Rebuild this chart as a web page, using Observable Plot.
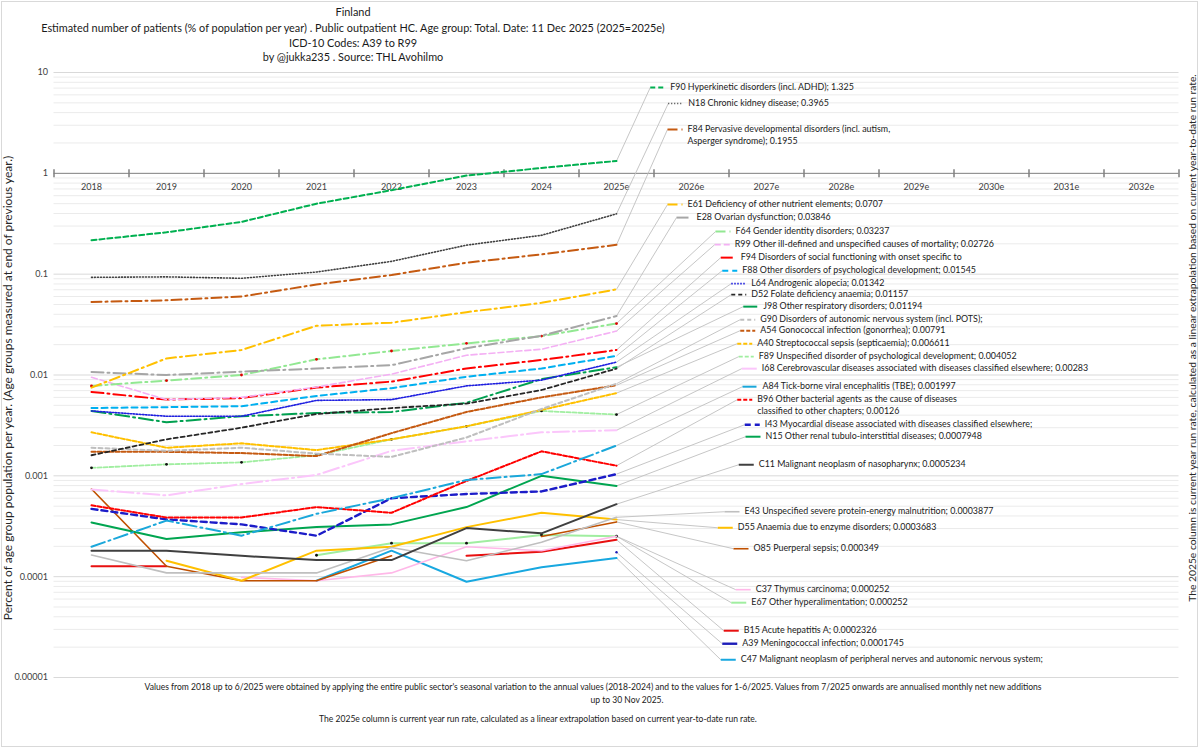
<!DOCTYPE html>
<html>
<head>
<meta charset="utf-8">
<script src="https://cdn.jsdelivr.net/npm/d3@7"></script>
<script src="https://cdn.jsdelivr.net/npm/@observablehq/plot@0.6"></script>
<style>
  html, body { margin: 0; padding: 0; background: #fff; }
  #wrap { position: relative; width: 1200px; height: 749px; overflow: hidden; background: #fff;
          font-family: Lato, "Liberation Sans", sans-serif; color: #1a1a1a; }
  #frame { position: absolute; left: 1px; top: 1px; width: 1195px; height: 744px; border: 1px solid #d9d9d9; }
  .t { position: absolute; white-space: nowrap; transform: translate(-50%, -50%); line-height: 1; }
  .rot { position: absolute; white-space: nowrap; transform: translate(-50%, -50%) rotate(-90deg); line-height: 1; }
  #chart { position: absolute; left: 0; top: 0; }
</style>
</head>
<body>
<div id="wrap">
  <div id="frame"></div>
  <div id="chart"></div>
  <div class="t ttl" style="left:353px; top:12px;">Finland</div>
  <div class="t ttl" id="ttlMain" style="left:353px; top:28px;">Estimated number of patients  (% of population per year) . Public outpatient HC. Age group: Total. Date: 11 Dec 2025 (2025=2025e)</div>
  <div class="t ttl" style="left:353px; top:43px;">ICD-10 Codes: A39 to R99</div>
  <div class="t ttl" style="left:353px; top:57px;">by @jukka235 . Source: THL Avohilmo</div>
  <div class="rot" id="yTitle" style="left:8px; top:388px; color:#262626;">Percent of age group population per year. (Age groups measured at end of previous year.)</div>
  <div class="rot" id="rNote" style="left:1192px; top:338px; color:#262626;">The 2025e column is current year run rate, calculated as a linear extrapolation based on current year-to-date run rate.</div>
  <div class="t note" id="note1" style="left:593px; top:687px;">Values from 2018 up to 6/2025 were obtained by applying the entire public sector's seasonal variation to the annual values (2018-2024) and to the values for 1-6/2025. Values from 7/2025 onwards are annualised monthly net new additions</div>
  <div class="t note" style="left:627px; top:700px;">up to 30 Nov 2025.</div>
  <div class="t note" style="left:538px; top:719px;">The 2025e column is current year run rate, calculated as a linear extrapolation based on current year-to-date run rate.</div>
</div>
<script>
// ---------- categories & ticks ----------
const years = ["2018","2019","2020","2021","2022","2023","2024","2025e","2026e","2027e","2028e","2029e","2030e","2031e","2032e"];
const yTickValues = [10, 1, 0.1, 0.01, 0.001, 0.0001, 0.00001];
const yTickLabels = ["10", "1", "0.1", "0.01", "0.001", "0.0001", "0.00001"];

// ---------- series values, 2018 .. 2025e (null = no value) ----------
const F90 = [0.217, 0.26, 0.33, 0.50, 0.68, 0.95, 1.13, 1.325];
const N18 = [0.093, 0.094, 0.091, 0.105, 0.134, 0.194, 0.243, 0.3965];
const F84 = [0.053, 0.055, 0.060, 0.079, 0.098, 0.130, 0.157, 0.1955];
const E61 = [0.0075, 0.0146, 0.0177, 0.0308, 0.033, 0.042, 0.052, 0.0707];
const E28 = [0.0107, 0.0100, 0.0108, 0.0116, 0.0125, 0.0184, 0.0245, 0.03846];
const F64 = [0.0078, 0.0088, 0.0100, 0.0143, 0.0173, 0.0206, 0.0243, 0.03237];
const R99 = [0.0095, 0.0057, 0.0060, 0.0076, 0.0102, 0.0157, 0.0180, 0.02726];
const F94 = [0.0068, 0.0057, 0.0059, 0.0075, 0.0086, 0.0116, 0.0141, 0.0177];
const F88 = [0.0047, 0.0048, 0.0049, 0.0062, 0.0074, 0.0096, 0.0116, 0.01545];
const L64 = [0.0044, 0.0039, 0.0039, 0.0056, 0.0057, 0.0078, 0.0089, 0.01342];
const D52 = [0.0016, 0.0023, 0.0030, 0.0041, 0.0047, 0.0052, 0.0071, 0.01157];
const J98 = [0.0044, 0.0034, 0.0039, 0.0042, 0.0043, 0.0053, 0.0091, 0.01194];
const G90 = [0.0019, 0.00177, 0.0019, 0.00166, 0.00154, 0.0024, 0.0046, 0.0082];
const A54 = [0.00173, 0.00173, 0.00168, 0.00157, 0.00265, 0.0043, 0.0060, 0.00791];
const A40 = [0.0027, 0.0019, 0.0021, 0.0018, 0.0023, 0.0031, 0.0045, 0.006611];
const F89 = [0.0012, 0.0013, 0.00136, 0.0016, 0.0023, 0.0031, 0.0044, 0.004052];
const I68 = [0.00073, 0.00064, 0.00083, 0.00102, 0.00177, 0.0022, 0.0027, 0.00283];
const A84 = [0.000198, 0.00036, 0.000255, 0.00042, 0.00060, 0.00091, 0.00104, 0.001997];
const B96 = [0.00051, 0.000386, 0.000386, 0.00049, 0.00043, 0.00089, 0.00175, 0.00126];
const I43 = [0.00047, 0.00037, 0.00033, 0.000255, 0.00060, 0.00066, 0.00070, 0.00104];
const N15 = [0.000345, 0.000236, 0.000275, 0.00031, 0.00033, 0.00049, 0.00100, 0.0007948];
const C11 = [0.000181, 0.000181, 0.000161, 0.000146, 0.000146, 0.000303, 0.000269, 0.0005234];
const E43 = [0.000164, 0.000109, 0.000109, 0.000109, 0.000195, 0.000144, 0.000219, 0.0003877];
const D55 = [null, 0.000144, 0.0000912, 0.000181, 0.000198, 0.00031, 0.00043, 0.0003683];
const O85 = [0.00074, 0.000127, 0.0000912, 0.0000912, 0.000161, null, 0.00025, 0.000349];
const C37 = [null, null, 0.0000985, 0.0000912, 0.000109, 0.000198, 0.000181, 0.000252];
const E67 = [null, null, null, 0.000163, 0.000215, 0.000215, 0.000259, 0.000252];
const B15 = [0.000127, 0.000127, null, null, null, 0.000161, 0.000177, 0.0002326];
const A39 = [null, null, null, null, null, null, null, 0.0001745];
const C47 = [null, null, null, 0.0000912, 0.000181, 0.000089, 0.000124, 0.000153];

// ---------- legend label texts (same order) ----------
const labels = [
  "F90 Hyperkinetic disorders (incl. ADHD); 1.325",
  "N18 Chronic kidney disease; 0.3965",
  "F84 Pervasive developmental disorders (incl. autism,\nAsperger syndrome); 0.1955",
  "E61 Deficiency of other nutrient elements; 0.0707",
  "E28 Ovarian dysfunction; 0.03846",
  "F64 Gender identity disorders; 0.03237",
  "R99 Other ill-defined and unspecified causes of mortality; 0.02726",
  "F94 Disorders of social functioning with onset specific to",
  "F88 Other disorders of psychological development; 0.01545",
  "L64 Androgenic alopecia; 0.01342",
  "D52 Folate deficiency anaemia; 0.01157",
  "J98 Other respiratory disorders; 0.01194",
  "G90 Disorders of autonomic nervous system (incl. POTS);",
  "A54 Gonococcal infection (gonorrhea); 0.00791",
  "A40 Streptococcal sepsis (septicaemia); 0.006611",
  "F89 Unspecified disorder of psychological development; 0.004052",
  "I68 Cerebrovascular diseases associated with diseases classified elsewhere; 0.00283",
  "A84 Tick-borne viral encephalitis (TBE); 0.001997",
  "B96 Other bacterial agents as the cause of diseases\nclassified to other chapters; 0.00126",
  "I43 Myocardial disease associated with diseases classified elsewhere;",
  "N15 Other renal tubulo-interstitial diseases; 0.0007948",
  "C11 Malignant neoplasm of nasopharynx; 0.0005234",
  "E43 Unspecified severe protein-energy malnutrition; 0.0003877",
  "D55 Anaemia due to enzyme disorders; 0.0003683",
  "O85 Puerperal sepsis; 0.000349",
  "C37 Thymus carcinoma; 0.000252",
  "E67 Other hyperalimentation; 0.000252",
  "B15 Acute hepatitis A; 0.0002326",
  "A39 Meningococcal infection; 0.0001745",
  "C47 Malignant neoplasm of peripheral nerves and autonomic nervous system;"
];
const seriesValues = [F90, N18, F84, E61, E28, F64, R99, F94, F88, L64, D52, J98, G90, A54, A40, F89, I68, A84, B96, I43, N15, C11, E43, D55, O85, C37, E67, B15, A39, C47];

// ---------- styles (colour, dash, width, marker colour) ----------
const styles = [
  {color: "#00B050", dash: "5,3", width: 2},
  {color: "#404040", dash: "1,2", width: 1.6},
  {color: "#C55A11", dash: "10,4,2,4", width: 2},
  {color: "#FFC000", dash: "10,4,2,4", width: 2},
  {color: "#A6A6A6", dash: "12,4,2,4", width: 2},
  {color: "#92E892", dash: "10,4,2,4", width: 2, dots: "#E00000"},
  {color: "#F4B0F4", dash: "6,3", width: 1.6},
  {color: "#FF0000", dash: "12,4,2,4", width: 2},
  {color: "#00B0F0", dash: "6,4", width: 2},
  {color: "#2020E0", dash: "1.5,1.5", width: 1.6},
  {color: "#262626", dash: "4,3", width: 1.8},
  {color: "#00A050", dash: "14,4,2,4", width: 2},
  {color: "#BFBFBF", dash: "4,3", width: 2},
  {color: "#C55A11", dash: "4,2", width: 2},
  {color: "#FFC000", dash: "4,2", width: 2},
  {color: "#A0EEA0", dash: "4,2", width: 1.8, dots: "#111111"},
  {color: "#FBC6FB", dash: "16,4,2,4", width: 2},
  {color: "#1AA7DA", dash: "14,4,2,4", width: 2},
  {color: "#FF0000", dash: "4,2", width: 2},
  {color: "#1C1CC8", dash: "6,4", width: 2.4},
  {color: "#00A550", dash: null, width: 2},
  {color: "#404040", dash: null, width: 2},
  {color: "#BFBFBF", dash: null, width: 1.6},
  {color: "#FFC000", dash: null, width: 2},
  {color: "#C05000", dash: null, width: 1.6},
  {color: "#FFB8E8", dash: null, width: 1.6},
  {color: "#A0EEA0", dash: null, width: 2, dots: "#111111"},
  {color: "#E81010", dash: null, width: 2},
  {color: "#1C1CB8", dash: null, width: 2.4},
  {color: "#18A8E0", dash: null, width: 2}
];

// ---------- label layout (x in year-index units, y as log10 of value) ----------
const labelX = [7.45, 7.69, 7.68, 7.68, 7.80, 8.32, 8.31, 8.39, 8.41, 8.53, 8.53, 8.69, 8.65, 8.65, 8.61, 8.63, 8.67, 8.68, 8.61, 8.71, 8.72, 8.63, 8.44, 8.35, 8.56, 8.59, 8.53, 8.43, 8.41, 8.39];
const labelLog = [0.851, 0.692, 0.435, -0.310, -0.439, -0.578, -0.707, -0.836, -0.965, -1.094, -1.203, -1.322, -1.451, -1.560, -1.689, -1.818, -1.937, -2.116, -2.245, -2.493, -2.612, -2.890, -3.356, -3.515, -3.723, -4.129, -4.258, -4.536, -4.665, -4.824];
const sampleLen = 0.2;

const FAMILY = 'Lato, "Liberation Sans", sans-serif';

// font size that makes a text take a given width (to mimic the original narrow font)
const measureCtx = document.createElement("canvas").getContext("2d");
function fitSize(text, target) {
  measureCtx.font = `100px ${FAMILY}`;
  return 100 * target / measureCtx.measureText(text).width;
}
const labelFont = fitSize(labels[0], 184);
const tickFont = fitSize("2018", 21);

// HTML texts sized by width
function fitEl(el, target) {
  el.style.fontSize = "100px";
  return 100 * target / el.offsetWidth;
}
const ttlSize = fitEl(document.getElementById("ttlMain"), 624);
document.querySelectorAll(".ttl").forEach(el => el.style.fontSize = ttlSize + "px");
const noteSize = fitEl(document.getElementById("note1"), 898);
document.querySelectorAll(".note").forEach(el => el.style.fontSize = noteSize + "px");
const yT = document.getElementById("yTitle"); yT.style.fontSize = fitEl(yT, 465) + "px";
const rN = document.getElementById("rNote"); rN.style.fontSize = fitEl(rN, 528) + "px";

// build table
const series = seriesValues.map((vals, k) => ({
  k,
  rows: vals.map((v, i) => ({i, v: v == null ? NaN : v})),
  last: vals[vals.length - 1],
  label: labels[k],
  lx: labelX[k],
  ly: Math.pow(10, labelLog[k]),
  ...styles[k]
}));

// gridlines
const gridMinor = d3.range(-5, 1).flatMap(e => d3.range(2, 10).map(m => m * Math.pow(10, e)));
const gridMajor = yTickValues.filter(v => v !== 1);
const edges = d3.range(years.length + 1).map(i => i - 0.5);
const vTick = { draw(ctx) { ctx.moveTo(0, -4); ctx.lineTo(0, 4); } };

const marks = [
  Plot.ruleY(gridMinor, {y: d => d, x1: -0.5, x2: 14.5, stroke: "#ebebeb", strokeWidth: 1}),
  Plot.ruleY(gridMajor, {y: d => d, x1: -0.5, x2: 14.5, stroke: "#d9d9d9", strokeWidth: 1}),
  // x axis crossing at 1
  Plot.ruleY([1], {y: d => d, x1: -0.5, x2: 14.5, stroke: "#7f7f7f", strokeWidth: 1}),
  Plot.dot(edges, {x: d => d, y: () => 1, symbol: vTick, stroke: "#7f7f7f", fill: "none", r: 3}),
  Plot.text(years, {x: (d, i) => i, y: () => 1, text: d => d, dy: 14, fill: "#404040", fontSize: tickFont}),
  Plot.text(yTickValues, {x: () => -0.5, y: d => d, text: (d, i) => yTickLabels[i], textAnchor: "end", dx: -6, fill: "#404040", fontSize: tickFont}),
  // leader lines
  Plot.link(series, {x1: () => 7, y1: d => d.last, x2: d => d.lx, y2: d => d.ly, stroke: "#bfbfbf", strokeWidth: 0.9})
];

// series lines (bottom of legend drawn first)
for (const s of series.slice().reverse()) {
  marks.push(Plot.line(s.rows, {x: "i", y: "v", stroke: s.color, strokeWidth: s.width,
    strokeDasharray: s.dash || undefined, strokeLinejoin: "round"}));
  if (s.dots) marks.push(Plot.dot(s.rows.filter(r => !isNaN(r.v)), {x: "i", y: "v", r: 1.4, fill: s.dots, stroke: "none"}));
}

// legend samples and texts
for (const s of series) {
  marks.push(Plot.link([s], {x1: d => d.lx, x2: d => d.lx + sampleLen, y1: d => d.ly, y2: d => d.ly,
    stroke: s.color, strokeWidth: s.width, strokeDasharray: s.dash || undefined}));
}
marks.push(Plot.text(series, {x: d => d.lx + sampleLen, y: d => d.ly, text: d => d.label, dx: 5, dy: -6,
  textAnchor: "start", lineAnchor: "top", lineHeight: 12 / labelFont, fill: "#1a1a1a", fontSize: labelFont}));

const chart = Plot.plot({
  width: 1200,
  height: 749,
  marginTop: 72,
  marginBottom: 72,
  marginLeft: 53.5,
  marginRight: 21.5,
  x: {type: "linear", domain: [-0.5, 14.5], axis: null},
  y: {type: "log", domain: [0.00001, 10], axis: null},
  style: {fontFamily: FAMILY, fontSize: "10px", background: "transparent", overflow: "visible"},
  marks
});
document.getElementById("chart").appendChild(chart);
</script>
</body>
</html>
